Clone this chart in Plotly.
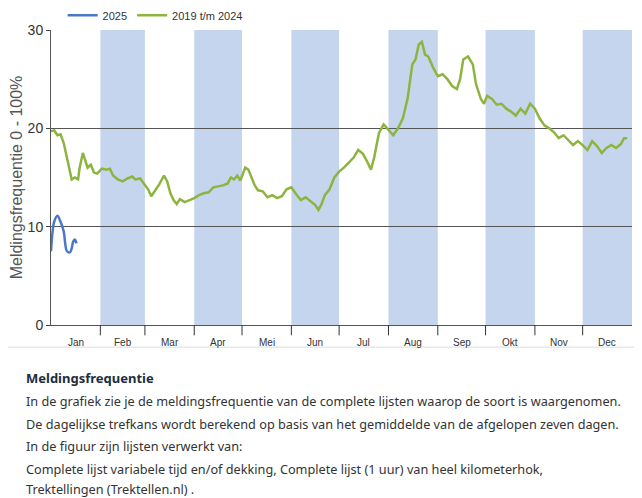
import plotly.graph_objects as go

months = ["Jan","Feb","Mar","Apr","Mei","Jun","Jul","Aug","Sep","Okt","Nov","Dec"]
month_starts = [1,32,60,91,121,152,182,213,244,274,305,335,366]

hist_days = [1,3,5,7,9,11,13,14,16,18,19,21,22,24,26,28,30,33,36,38,40,43,46,49,52,54,57,60,62,64,66,69,72,74,76,78,80,82,85,88,91,94,97,100,103,106,109,112,114,116,118,120,123,125,127,129,131,134,137,140,143,146,149,152,155,158,161,164,167,169,171,173,176,179,182,185,188,191,194,197,200,202,204,207,210,213,216,219,222,225,228,230,232,234,236,238,241,244,247,250,253,256,258,260,263,266,268,271,273,275,278,281,284,287,290,293,296,299,302,305,308,311,314,317,320,323,326,329,332,335,338,341,344,347,350,353,356,359,361,363]
hist_vals = [19.7,19.8,19.3,19.4,18.5,17.0,15.5,14.8,15.0,14.8,16.0,17.5,17.0,16.0,16.3,15.5,15.4,15.9,15.8,15.9,15.2,14.8,14.6,14.9,15.1,14.8,14.9,14.3,13.8,13.1,13.6,14.3,15.2,14.6,13.4,12.7,12.3,12.8,12.5,12.7,12.9,13.2,13.4,13.5,14.0,14.1,14.2,14.4,15.0,14.8,15.2,14.7,16.0,15.8,15.0,14.2,13.7,13.6,13.0,13.2,12.9,13.1,13.8,14.0,13.3,12.7,13.0,12.6,12.2,11.7,12.3,13.2,13.8,15.0,15.6,16.0,16.5,17.0,17.8,17.4,16.5,15.8,17.0,19.5,20.4,19.8,19.3,20.0,21.0,23.0,26.5,27.0,28.5,28.8,27.5,27.3,26.2,25.3,25.5,25.0,24.3,24.0,25.0,27.0,27.3,26.5,24.5,23.0,22.5,23.3,23.0,22.4,22.5,22.0,21.7,21.3,22.0,21.5,22.5,22.0,21.0,20.3,20.0,19.6,19.0,19.3,18.8,18.3,18.7,18.3,17.8,18.7,18.2,17.5,18.0,18.3,18.0,18.4,19.0,19.0]

cur_days = [1,2,3,5,7,9,10,11,13,14,15,16,17]
cur_vals = [7.5,9.5,10.5,11.1,10.5,9.5,8.2,7.5,7.4,7.8,8.5,8.7,8.3]

fig = go.Figure()
fig.add_trace(go.Scatter(x=cur_days, y=cur_vals, mode="lines", name="2025",
                         line=dict(color="#4a78c8", width=2.5, shape="spline")))
fig.add_trace(go.Scatter(x=hist_days, y=hist_vals, mode="lines", name="2019 t/m 2024",
                         line=dict(color="#8db43e", width=2.5)))

for i in range(1, 12, 2):
    fig.add_shape(type="rect", xref="x", yref="y", x0=month_starts[i], x1=month_starts[i+1],
                  y0=0, y1=30, fillcolor="#c6d5ee", line_width=0, layer="below")
for s in month_starts[1:-1]:
    fig.add_shape(type="line", xref="x", yref="paper", x0=s, x1=s, y0=0, y1=-0.035,
                  line=dict(color="#333", width=1))
for i, m in enumerate(months):
    fig.add_annotation(x=(month_starts[i]+month_starts[i+1])/2, y=-0.035, xref="x", yref="paper",
                       text=m, showarrow=False, yanchor="top", font=dict(size=10, color="#333"))

fig.add_shape(type="line", xref="paper", yref="paper", x0=-0.1, x1=1.02, y0=-0.075, y1=-0.075,
              line=dict(color="#dddddd", width=1))

fig.add_annotation(xref="paper", yref="paper", x=-0.047, y=(325-378)/295, xanchor="left", yanchor="middle",
                   showarrow=False, text="<b>Meldingsfrequentie</b>", font=dict(size=13, color="#1e2d3b", family="Noto Sans"))
lines = ["In de grafiek zie je de meldingsfrequentie van de complete lijsten waarop de soort is waargenomen.",
         "De dagelijkse trefkans wordt berekend op basis van het gemiddelde van de afgelopen zeven dagen.",
         "In de figuur zijn lijsten verwerkt van:",
         "Complete lijst variabele tijd en/of dekking, Complete lijst (1 uur) van heel kilometerhok,",
         "Trektellingen (Trektellen.nl) ."]
ys = [401, 424, 446, 469, 489]
for t, yy in zip(lines, ys):
    fig.add_annotation(xref="paper", yref="paper", x=-0.047, y=(325-yy)/295, xanchor="left", yanchor="middle",
                       showarrow=False, text=t, font=dict(size=12.7, color="#333", family="Noto Sans"))

fig.update_layout(
    width=634, height=490, paper_bgcolor="white", plot_bgcolor="white",
    margin=dict(l=43, r=10, t=22, b=173, autoexpand=False),
    font=dict(family="Liberation Sans, Arial", color="#333"),
    legend=dict(orientation="h", x=0.02, y=1.05, xanchor="left", yanchor="middle",
                font=dict(size=11), bgcolor="rgba(0,0,0,0)"),
    xaxis=dict(range=[1, 366], showticklabels=False, showgrid=False, zeroline=False,
               showline=True, linecolor="#555", fixedrange=True),
    yaxis=dict(range=[0, 30], tickvals=[0, 10, 20, 30], showgrid=True, gridcolor="#555", gridwidth=1,
               zeroline=False, showline=True, linecolor="#555", ticks="outside", ticklen=4,
               tickfont=dict(size=14), title=dict(text="Meldingsfrequentie 0 - 100%", font=dict(size=16, color="#555"), standoff=4)),
    showlegend=True,
)
fig.write_html("out.html")
